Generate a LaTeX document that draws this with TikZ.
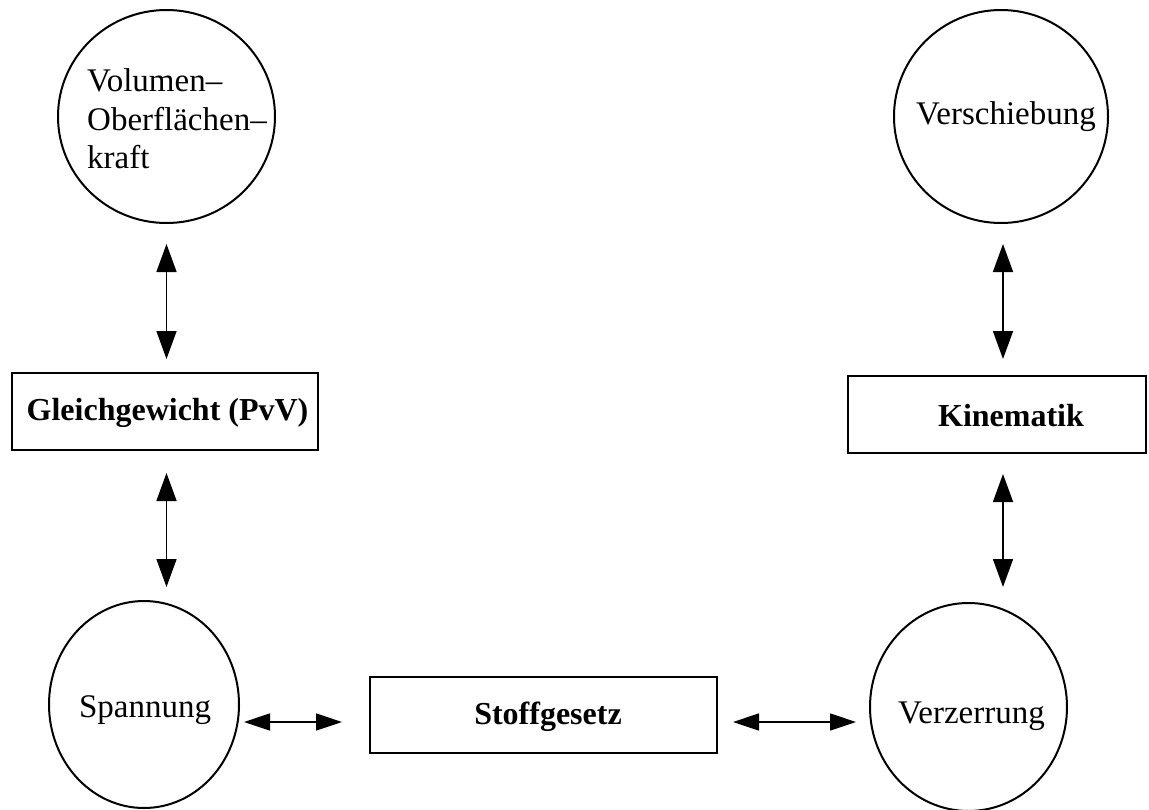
\documentclass[tikz,border=0pt]{standalone}
\usepackage{fontspec}
\setmainfont{Liberation Serif}
\usetikzlibrary{shapes.geometric,arrows.meta}
\begin{document}
\begin{tikzpicture}[x=1pt,y=-1pt,
  circ/.style={draw,ellipse,line width=2pt,inner sep=0pt},
  boxn/.style={draw,rectangle,line width=2pt,inner sep=0pt},
  lbl/.style={inner sep=0pt,font=\fontsize{33}{38.5}\selectfont},
  blbl/.style={inner sep=0pt,font=\fontsize{32}{38}\selectfont\bfseries},
  dbl/.style={line width=1.6pt,{Triangle[length=28pt,width=20pt]}-{Triangle[length=28pt,width=20pt]}},
  hdbl/.style={line width=1.6pt,{Triangle[length=26pt,width=17pt]}-{Triangle[length=26pt,width=17pt]}}]
\useasboundingbox (0,0) rectangle (1149,809);
% circles
\node[circ,minimum width=217pt,minimum height=213pt] (vo) at (166.5,116.5) {};
\node[circ,minimum width=214pt,minimum height=213pt] (ve) at (1001,116.5) {};
\node[circ,minimum width=190pt,minimum height=207pt] (sp) at (144,704.5) {};
\node[circ,minimum width=197pt,minimum height=208pt] (vz) at (968.5,707) {};
% boxes
\node[boxn,minimum width=306pt,minimum height=77pt] (gg) at (165,411.5) {};
\node[boxn,minimum width=298pt,minimum height=77pt] (ki) at (997,414.5) {};
\node[boxn,minimum width=347pt,minimum height=76pt] (sg) at (543.5,715) {};
% texts
\node[lbl,align=left,anchor=west] (tvo) at (87,119) {Volumen--\\Oberfl\"achen--\\kraft};
\node[lbl] (tve) at (1006,117) {Verschiebung};
\node[lbl] (tsp) at (145,710) {Spannung};
\node[lbl] (tvz) at (971.5,716) {Verzerrung};
\node[blbl] (tgg) at (167.5,413) {Gleichgewicht (PvV)};
\node[blbl] (tki) at (1011,416) {Kinematik};
\node[blbl] (tsg) at (548,717) {Stoffgesetz};
% connectors
\coordinate (hy) at (0,722);
\draw[dbl,shorten <=20pt,shorten >=13pt] (vo.south) -- (vo.south |- gg.north);
\draw[dbl,shorten <=22pt,shorten >=13pt] (vo.south |- gg.south) -- (vo.south |- sp.north);
\draw[dbl,shorten <=20pt,shorten >=16pt] ([xshift=2pt]ve.south) -- ([xshift=2pt]ve.south |- ki.north);
\draw[dbl,shorten <=20pt,shorten >=15pt] ([xshift=2pt]ve.south |- ki.south) -- ([xshift=2pt]ve.south |- vz.north);
\draw[hdbl,shorten <=4pt,shorten >=27pt] (sp.east |- hy) -- (sg.west |- hy);
\draw[hdbl,shorten <=15pt,shorten >=13pt] (sg.east |- hy) -- (vz.west |- hy);
\end{tikzpicture}
\end{document}
